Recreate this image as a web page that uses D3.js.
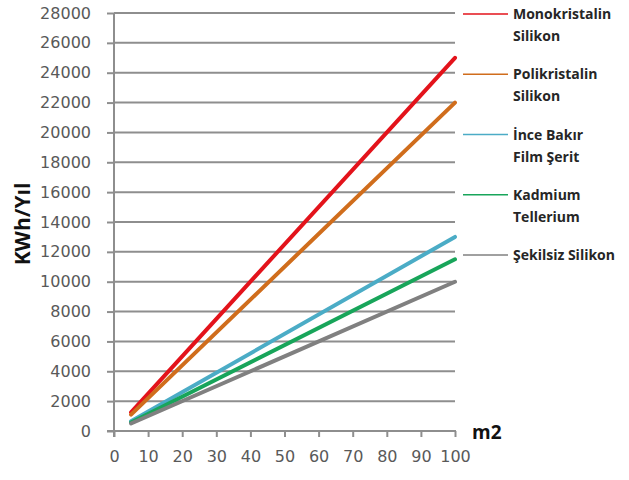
<!DOCTYPE html>
<html>
<head>
<meta charset="utf-8">
<script src="https://cdn.jsdelivr.net/npm/d3@7"></script>
<style>
  html, body { margin: 0; padding: 0; background: #ffffff; }
  svg { display: block; }
</style>
</head>
<body>
<svg id="chart" width="629" height="480"></svg>
<script>
// Panel area (m2) and yearly energy output (KWh/Yıl) per technology
const areas = [5, 100];
const seriesNames = [
  ["Monokristalin", "Silikon"],
  ["Polikristalin", "Silikon"],
  ["İnce Bakır", "Film Şerit"],
  ["Kadmium", "Tellerium"],
  ["Şekilsiz Silikon"]
];
const monokristalin = [1250, 25000];
const polikristalin = [1100, 22000];
const inceBakir = [650, 13000];
const kadmium = [575, 11500];
const sekilsiz = [500, 10000];
const seriesColors = ["#e3131b", "#d06d1c", "#4bacc6", "#18a55a", "#808080"];
const yTicks = d3.range(0, 28001, 2000);
const xTicks = d3.range(0, 101, 10);

const allSeries = [monokristalin, polikristalin, inceBakir, kadmium, sekilsiz];

const svg = d3.select("#chart");
const x = d3.scaleLinear().domain([0, 100]).range([114, 455]);
const y = d3.scaleLinear().domain([0, 28000]).range([431, 13]);

const gridColor = "#8e8e8e";

// horizontal gridlines
svg.append("g")
  .selectAll("line")
  .data(yTicks.filter(d => d > 0))
  .join("line")
  .attr("x1", x(0)).attr("x2", x(100))
  .attr("y1", d => y(d)).attr("y2", d => y(d))
  .attr("stroke", gridColor).attr("stroke-width", 2);

// y axis
const yAxis = svg.append("g")
  .attr("transform", `translate(${x(0)},0)`)
  .call(d3.axisLeft(y).tickValues(yTicks).tickSize(7).tickPadding(16).tickFormat(d3.format("d")));
yAxis.select(".domain").remove();
yAxis.append("line")
  .attr("x1", 0).attr("x2", 0)
  .attr("y1", y(28000)).attr("y2", y(0) + 6)
  .attr("stroke", gridColor).attr("stroke-width", 2);

// x axis
const xAxis = svg.append("g")
  .attr("transform", `translate(0,${y(0)})`)
  .call(d3.axisBottom(x).tickValues(xTicks).tickSize(6).tickPadding(14).tickFormat(d3.format("d")));
xAxis.select(".domain").remove();
xAxis.append("line")
  .attr("x1", x(0) - 7).attr("x2", x(100) + 1)
  .attr("y1", 0).attr("y2", 0)
  .attr("stroke", gridColor).attr("stroke-width", 2);

[yAxis, xAxis].forEach(g => {
  g.selectAll(".tick line").attr("stroke", gridColor).attr("stroke-width", 2);
  g.selectAll(".tick text")
    .attr("fill", "#595959")
    .style("font-family", "'DejaVu Sans', sans-serif")
    .style("font-size", "16px");
});

// series lines
const line = d3.line()
  .x((d, i) => x(areas[i]))
  .y(d => y(d));

svg.append("g")
  .selectAll("path")
  .data(allSeries)
  .join("path")
  .attr("d", d => line(d))
  .attr("fill", "none")
  .attr("stroke", (d, i) => seriesColors[i])
  .attr("stroke-width", 4)
  .attr("stroke-linecap", "round");

// axis titles
svg.append("text")
  .attr("transform", "translate(30,224) rotate(-90)")
  .attr("text-anchor", "middle")
  .attr("fill", "#111")
  .style("font-family", "'Open Sans', sans-serif")
  .style("font-weight", "bold")
  .style("font-size", "21px")
  .text("KWh/Yıl");

svg.append("text")
  .attr("x", 472).attr("y", 439)
  .attr("fill", "#111")
  .style("font-family", "'Open Sans', sans-serif")
  .style("font-weight", "bold")
  .style("font-size", "19px")
  .text("m2");

// legend
const legend = svg.append("g")
  .selectAll("g")
  .data(seriesNames)
  .join("g")
  .attr("transform", (d, i) => `translate(0,${14 + i * 60.25})`);

legend.append("line")
  .attr("x1", 463).attr("x2", 508)
  .attr("y1", 0).attr("y2", 0)
  .attr("stroke", (d, i) => seriesColors[i])
  .attr("stroke-width", 1.6);

legend.append("text")
  .attr("x", 513)
  .attr("fill", "#262626")
  .style("font-family", "'Open Sans', sans-serif")
  .style("font-weight", "bold")
  .style("font-size", "14px")
  .selectAll("tspan")
  .data(d => d)
  .join("tspan")
  .attr("x", 513)
  .attr("y", (d, i) => 5 + i * 22)
  .text(d => d);
</script>
</body>
</html>
